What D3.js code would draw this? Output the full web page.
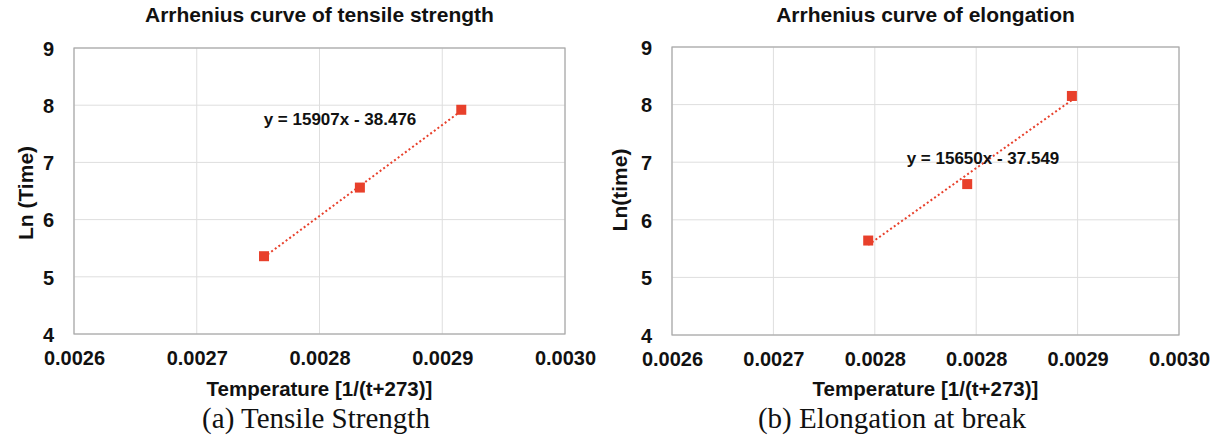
<!DOCTYPE html>
<html>
<head>
<meta charset="utf-8">
<script src="https://cdn.jsdelivr.net/npm/d3@7"></script>
<style>
  html, body { margin: 0; padding: 0; background: #fff; }
  svg { display: block; }
  text { font-family: "Liberation Sans", Arial, sans-serif; fill: #111; }
</style>
</head>
<body>
<svg id="chart" width="1211" height="439"></svg>
<script>
// ---- Data ----
const titleA = "Arrhenius curve of tensile strength";
const titleB = "Arrhenius curve of elongation";
const yTitleA = "Ln (Time)";
const yTitleB = "Ln(time)";
const xTitle = "Temperature [1/(t+273)]";
const captionA = "(a) Tensile Strength";
const captionB = "(b) Elongation at break";

const xValues = [0.0027548, 0.0028329, 0.0029155];   // 1/(t+273) for 90, 80, 70 °C
const lnTimeA = [5.36, 6.56, 7.92];
const lnTimeB = [5.64, 6.62, 8.15];

const trendA = [15907, -38.476];   // slope, intercept
const trendB = [15650, -37.549];
const eqLabelA = "y = 15907x - 38.476";
const eqLabelB = "y = 15650x - 37.549";

const xDomain = [0.0026, 0.0030];
const yDomain = [4, 9];
const xTicksA = [0.0026, 0.0027, 0.0028, 0.0029, 0.0030];
const xTicksB = [0.0026, 0.00268, 0.00276, 0.00284, 0.00292, 0.0030];
const yTicks = [4, 5, 6, 7, 8, 9];

// ---- Drawing ----
const svg = d3.select("#chart");
svg.append("rect").attr("width", 1211).attr("height", 439).attr("fill", "#fff");

const RED = "#e8402b";

function panel(cfg) {
  const x = d3.scaleLinear().domain(xDomain).range([cfg.left, cfg.right]);
  const y = d3.scaleLinear().domain(yDomain).range([cfg.bottom, cfg.top]);
  const g = svg.append("g");

  // gridlines
  g.append("g").selectAll("line.v").data(cfg.xTicks).join("line")
    .attr("x1", d => x(d)).attr("x2", d => x(d))
    .attr("y1", cfg.top).attr("y2", cfg.bottom)
    .attr("stroke", "#dedede").attr("stroke-width", 1);
  g.append("g").selectAll("line.h").data(yTicks).join("line")
    .attr("x1", cfg.left).attr("x2", cfg.right)
    .attr("y1", d => y(d)).attr("y2", d => y(d))
    .attr("stroke", "#dedede").attr("stroke-width", 1);

  // frame
  g.append("rect")
    .attr("x", cfg.left).attr("y", cfg.top)
    .attr("width", cfg.right - cfg.left).attr("height", cfg.bottom - cfg.top)
    .attr("fill", "none").attr("stroke", "#a8a8a8").attr("stroke-width", 1.2);

  // axes (labels only)
  const xAxis = d3.axisBottom(x).tickValues(cfg.xTicks).tickFormat(d3.format(".4f")).tickSize(0).tickPadding(0);
  const xg = g.append("g").attr("transform", `translate(0,${cfg.bottom})`).call(xAxis);
  xg.select(".domain").remove();
  xg.selectAll("text").attr("y", 31).attr("dy", 0)
    .style("font-family", "'Liberation Sans', Arial, sans-serif")
    .style("font-weight", "bold").style("font-size", "20px").attr("fill", "#111");

  const yAxis = d3.axisLeft(y).tickValues(yTicks).tickFormat(d3.format("d")).tickSize(0).tickPadding(20);
  const yg = g.append("g").attr("transform", `translate(${cfg.left},0)`).call(yAxis);
  yg.select(".domain").remove();
  yg.selectAll("text").attr("dy", "0.36em")
    .style("font-family", "'Liberation Sans', Arial, sans-serif")
    .style("font-weight", "bold").style("font-size", "20px").attr("fill", "#111");

  // trendline
  const xs = d3.extent(cfg.xs);
  const line = d3.line().x(d => x(d)).y(d => y(cfg.trend[0] * d + cfg.trend[1]));
  g.append("path").attr("d", line(xs))
    .attr("fill", "none").attr("stroke", RED).attr("stroke-width", 2)
    .attr("stroke-dasharray", "2,2.5");

  // markers
  const s = 10;
  g.append("g").selectAll("rect").data(cfg.xs.map((d, i) => [d, cfg.ys[i]])).join("rect")
    .attr("x", d => x(d[0]) - s / 2).attr("y", d => y(d[1]) - s / 2)
    .attr("width", s).attr("height", s).attr("fill", RED);

  // equation label
  g.append("text").attr("x", cfg.eqX).attr("y", cfg.eqY)
    .attr("text-anchor", "middle").style("font-weight", "bold").style("font-size", "17px")
    .text(cfg.eq);

  // title
  g.append("text").attr("x", (cfg.left + cfg.right) / 2).attr("y", 22)
    .attr("text-anchor", "middle").style("font-weight", "bold").style("font-size", "21px")
    .text(cfg.title);

  // x title
  g.append("text").attr("x", (cfg.left + cfg.right) / 2).attr("y", 396)
    .attr("text-anchor", "middle").style("font-weight", "bold").style("font-size", "20.5px")
    .text(xTitle);

  // y title
  g.append("text")
    .attr("transform", `translate(${cfg.yTitleX},${cfg.yTitleY}) rotate(-90)`)
    .attr("text-anchor", "middle").style("font-weight", "bold").style("font-size", "21px")
    .text(cfg.yTitle);

  // caption
  g.append("text").attr("x", cfg.capX).attr("y", 428)
    .attr("text-anchor", "middle")
    .style("font-family", "'Liberation Serif', 'Times New Roman', serif")
    .style("font-size", "29px").attr("fill", "#000")
    .text(cfg.caption);
}

panel({
  left: 74, right: 565, top: 48, bottom: 334,
  xTicks: xTicksA, xs: xValues, ys: lnTimeA, trend: trendA,
  eq: eqLabelA, eqX: 340, eqY: 125,
  title: titleA, yTitle: yTitleA, yTitleX: 33, yTitleY: 193,
  caption: captionA, capX: 316
});

panel({
  left: 672, right: 1179, top: 47, bottom: 335,
  xTicks: xTicksB, xs: xValues, ys: lnTimeB, trend: trendB,
  eq: eqLabelB, eqX: 983, eqY: 164,
  title: titleB, yTitle: yTitleB, yTitleX: 627, yTitleY: 190,
  caption: captionB, capX: 892
});
</script>
</body>
</html>
